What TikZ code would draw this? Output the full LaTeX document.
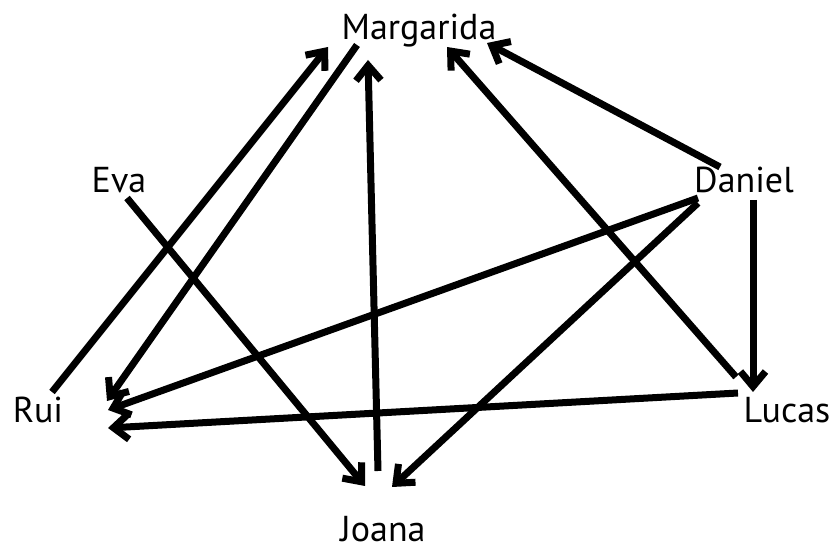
\documentclass[tikz,border=0pt]{standalone}
\usepackage{fontspec}
\setmainfont{PT Sans}
\usetikzlibrary{arrows.meta}

\begin{document}
\begin{tikzpicture}[x=1pt, y=1pt, font=\fontsize{36}{42}\selectfont,
    >={Straight Barb[length=15pt, width=25pt]}, line width=7pt]
  \useasboundingbox (0,0) rectangle (836,554);
  % people
  \foreach \n/\t/\x/\y in {mar/Margarida/419/514, eva/Eva/119/361, dan/Daniel/744/361,
      rui/Rui/38/131, luc/Lucas/787/131, joa/Joana/383/12}{
    \node[anchor=base, inner sep=0pt] (\n) at (\x,\y) {\t};
  }
  % arrows into Margarida
  \draw[->] ([shift={(14,31)}]rui.base) -- ([shift={(-91,-7)}]mar.base);
  \draw[->] ([shift={(-5,71)}]joa.base) -- ([shift={(-51,-20)}]mar.base);
  \draw[->] ([shift={(-51,46)}]luc.base) -- ([shift={(28,-7)}]mar.base);
  \draw[->] ([shift={(-24,26)}]dan.base) -- ([shift={(68,-3)}]mar.base);
  % arrows into Rui
  \draw[->] ([shift={(-62,-5)}]mar.base) -- ([shift={(69,22)}]rui.base);
  \draw[->] ([shift={(-46,-5)}]dan.base) -- ([shift={(70,13)}]rui.base);
  \draw[->] ([shift={(-49,30)}]luc.base) -- ([shift={(70,-5)}]rui.base);
  % arrows into Joana
  \draw[->] ([shift={(8,-5)}]eva.base) -- ([shift={(-18,56)}]joa.base);
  \draw[->] ([shift={(-46,-10)}]dan.base) -- ([shift={(9,55)}]joa.base);
  % Daniel to Lucas
  \draw[->] ([shift={(9,-7)}]dan.base) -- ([shift={(-34,31)}]luc.base);
\end{tikzpicture}
\end{document}
